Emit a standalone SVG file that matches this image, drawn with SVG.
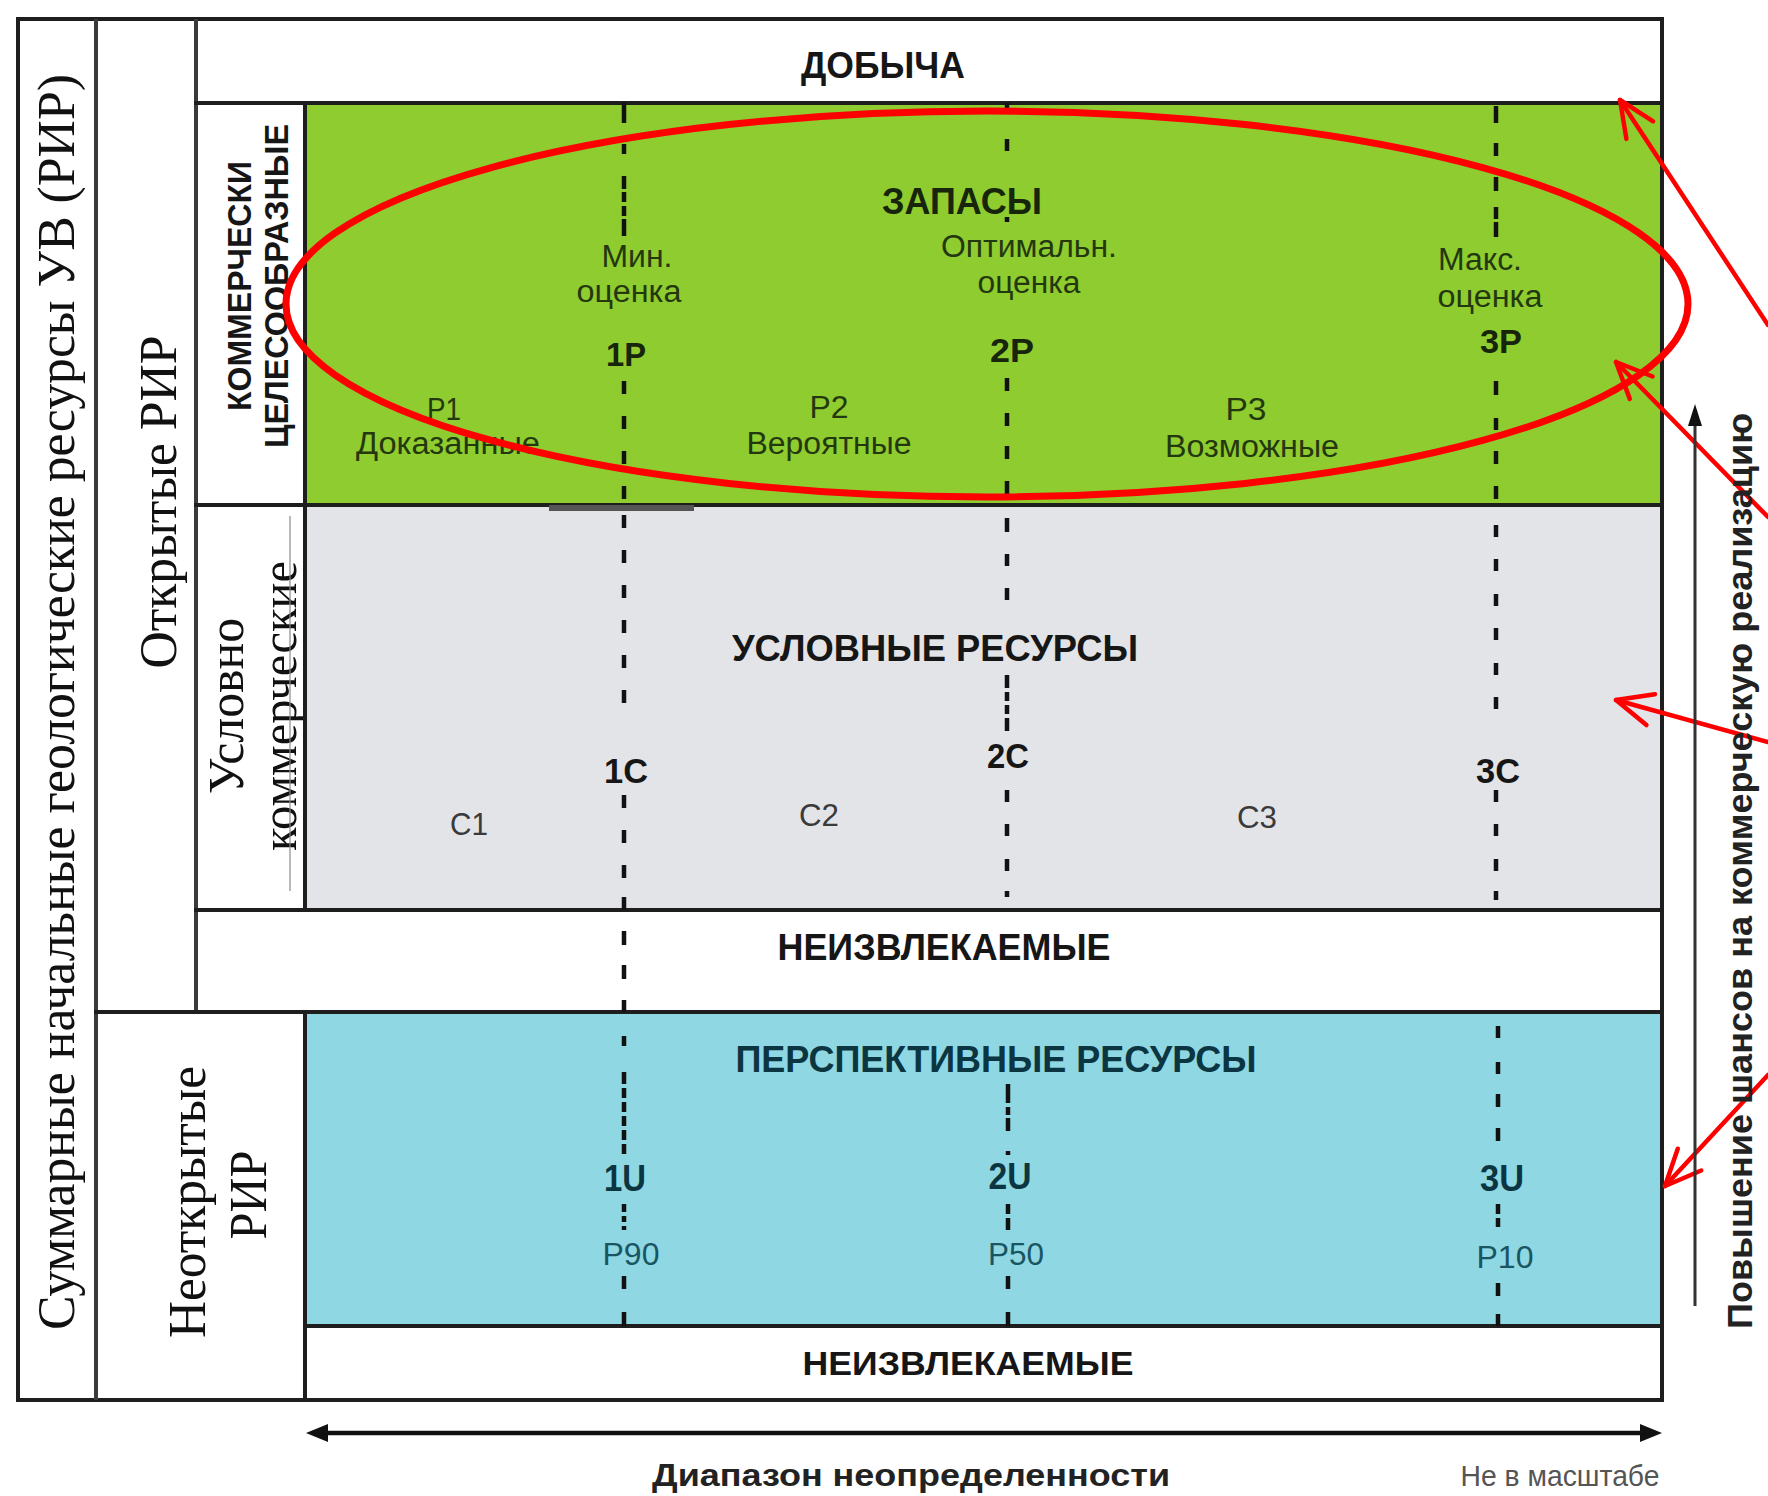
<svg xmlns="http://www.w3.org/2000/svg" width="1768" height="1496" viewBox="0 0 1768 1496">
<defs>
<style>
.sb{font-family:"Liberation Sans",Arial,sans-serif;font-weight:bold;text-anchor:middle}
.sr{font-family:"Liberation Sans",Arial,sans-serif;text-anchor:middle}
.se{font-family:"Liberation Serif","Times New Roman",serif;fill:#111;text-anchor:middle}
.gb{fill:#17250a}
.gr{fill:#24380f}
.kb{fill:#161616}
.kr{fill:#3a3a3a}
.tb{fill:#0b3540}
.tr{fill:#1a5562}
.frame{stroke:#1e1e1e;stroke-width:4;fill:none;stroke-linecap:square}
.col{stroke:#3a3a3a;stroke-width:4;fill:none}
.dash{stroke:#111;stroke-width:4.5;fill:none}
.red{stroke:#f00;stroke-width:4.5;fill:none;stroke-linecap:round}
</style>
<marker id="redhead" markerUnits="userSpaceOnUse" orient="auto" overflow="visible" refX="0" refY="0" markerWidth="1" markerHeight="1">
<path d="M-36,-16 L0,0 L-36,16" fill="none" stroke="#f00" stroke-width="4.5" stroke-linecap="round" stroke-linejoin="round"/>
</marker>
</defs>
<rect width="1768" height="1496" fill="#fff"/>

<g id="reserves">
<rect x="305" y="103" width="1357" height="402" fill="#8fcc2f"/>
<text class="sb gb" x="962" y="214" font-size="36" textLength="160" lengthAdjust="spacingAndGlyphs">ЗАПАСЫ</text>
<text class="sr gr" x="637" y="267" font-size="31" textLength="71" lengthAdjust="spacingAndGlyphs">Мин.</text>
<text class="sr gr" x="629" y="302" font-size="31" textLength="105" lengthAdjust="spacingAndGlyphs">оценка</text>
<text class="sr gr" x="1029" y="257" font-size="31" textLength="176" lengthAdjust="spacingAndGlyphs">Оптимальн.</text>
<text class="sr gr" x="1029" y="293" font-size="31" textLength="103" lengthAdjust="spacingAndGlyphs">оценка</text>
<text class="sr gr" x="1480" y="270" font-size="31" textLength="84" lengthAdjust="spacingAndGlyphs">Макс.</text>
<text class="sr gr" x="1490" y="307" font-size="31" textLength="105" lengthAdjust="spacingAndGlyphs">оценка</text>
<text class="sb gb" x="626" y="366" font-size="34" textLength="40" lengthAdjust="spacingAndGlyphs">1P</text>
<text class="sb gb" x="1012" y="362" font-size="34" textLength="44" lengthAdjust="spacingAndGlyphs">2P</text>
<text class="sb gb" x="1501" y="353" font-size="34" textLength="42" lengthAdjust="spacingAndGlyphs">3P</text>
<text class="sr gr" x="444" y="420" font-size="32" textLength="34" lengthAdjust="spacingAndGlyphs">P1</text>
<text class="sr gr" x="448" y="454" font-size="31" textLength="184" lengthAdjust="spacingAndGlyphs">Доказанные</text>
<text class="sr gr" x="829" y="418" font-size="32" textLength="39" lengthAdjust="spacingAndGlyphs">P2</text>
<text class="sr gr" x="829" y="454" font-size="31" textLength="165" lengthAdjust="spacingAndGlyphs">Вероятные</text>
<text class="sr gr" x="1246" y="420" font-size="32" textLength="41" lengthAdjust="spacingAndGlyphs">P3</text>
<text class="sr gr" x="1252" y="457" font-size="31" textLength="174" lengthAdjust="spacingAndGlyphs">Возможные</text>
</g>

<g id="contingent">
<rect x="305" y="505" width="1357" height="405" fill="#e3e4e8"/>
<text class="sb kb" x="935" y="661" font-size="36" textLength="406" lengthAdjust="spacingAndGlyphs">УСЛОВНЫЕ РЕСУРСЫ</text>
<text class="sb kb" x="626" y="783" font-size="35" textLength="44" lengthAdjust="spacingAndGlyphs">1C</text>
<text class="sb kb" x="1008" y="768" font-size="35" textLength="42" lengthAdjust="spacingAndGlyphs">2C</text>
<text class="sb kb" x="1498" y="783" font-size="35" textLength="44" lengthAdjust="spacingAndGlyphs">3C</text>
<text class="sr kr" x="469" y="835" font-size="32" textLength="38" lengthAdjust="spacingAndGlyphs">C1</text>
<text class="sr kr" x="819" y="826" font-size="32" textLength="40" lengthAdjust="spacingAndGlyphs">C2</text>
<text class="sr kr" x="1257" y="828" font-size="32" textLength="40" lengthAdjust="spacingAndGlyphs">C3</text>
</g>

<g id="prospective">
<rect x="305" y="1012" width="1357" height="314" fill="#8fd7e2"/>
<text class="sb tb" x="996" y="1072" font-size="36" textLength="521" lengthAdjust="spacingAndGlyphs">ПЕРСПЕКТИВНЫЕ РЕСУРСЫ</text>
<text class="sb tb" x="625" y="1191" font-size="36" textLength="42" lengthAdjust="spacingAndGlyphs">1U</text>
<text class="sb tb" x="1010" y="1189" font-size="36" textLength="43" lengthAdjust="spacingAndGlyphs">2U</text>
<text class="sb tb" x="1502" y="1191" font-size="36" textLength="44" lengthAdjust="spacingAndGlyphs">3U</text>
<text class="sr tr" x="631" y="1265" font-size="32" textLength="57" lengthAdjust="spacingAndGlyphs">P90</text>
<text class="sr tr" x="1016" y="1265" font-size="32" textLength="56" lengthAdjust="spacingAndGlyphs">P50</text>
<text class="sr tr" x="1505" y="1268" font-size="32" textLength="57" lengthAdjust="spacingAndGlyphs">P10</text>
</g>

<g id="production">
<text class="sb kb" x="883" y="78" font-size="36" textLength="164" lengthAdjust="spacingAndGlyphs">ДОБЫЧА</text>
</g>

<g id="unrecoverable-1">
<text class="sb kb" x="944" y="960" font-size="36" textLength="333" lengthAdjust="spacingAndGlyphs">НЕИЗВЛЕКАЕМЫЕ</text>
</g>

<g id="unrecoverable-2">
<text class="sb kb" x="968" y="1375" font-size="34" textLength="331" lengthAdjust="spacingAndGlyphs">НЕИЗВЛЕКАЕМЫЕ</text>
</g>

<g id="total-resources">
<text class="se" transform="translate(74,702) rotate(-90)" font-size="52" textLength="1256" lengthAdjust="spacingAndGlyphs">Суммарные начальные геологические ресурсы УВ (РИР)</text>
</g>

<g id="discovered">
<text class="se" transform="translate(176,502) rotate(-90)" font-size="52" textLength="333" lengthAdjust="spacingAndGlyphs">Открытые РИР</text>
</g>

<g id="commercial-label">
<text class="sb kb" transform="translate(251,286) rotate(-90)" font-size="33" textLength="250" lengthAdjust="spacingAndGlyphs">КОММЕРЧЕСКИ</text>
<text class="sb kb" transform="translate(288,286) rotate(-90)" font-size="33" textLength="324" lengthAdjust="spacingAndGlyphs">ЦЕЛЕСООБРАЗНЫЕ</text>
</g>

<g id="sub-commercial-label">
<text class="se" transform="translate(243,706) rotate(-90)" font-size="50" textLength="176" lengthAdjust="spacingAndGlyphs">Условно</text>
<text class="se" transform="translate(296,706) rotate(-90)" font-size="50" textLength="290" lengthAdjust="spacingAndGlyphs">коммерческие</text>
<line x1="290" y1="516" x2="290" y2="891" stroke="#8a8a8a" stroke-width="1.2"/>
</g>

<g id="undiscovered">
<text class="se" transform="translate(205,1202) rotate(-90)" font-size="52" textLength="272" lengthAdjust="spacingAndGlyphs">Неоткрытые</text>
<text class="se" transform="translate(266,1195) rotate(-90)" font-size="52" textLength="89" lengthAdjust="spacingAndGlyphs">РИР</text>
</g>

<g id="frame">
<rect x="18" y="19" width="1644" height="1381" class="frame"/>
<line x1="96" y1="19" x2="96" y2="1400" class="col"/>
<line x1="196" y1="19" x2="196" y2="1012" class="col"/>
<line x1="305" y1="103" x2="305" y2="910" class="frame"/>
<line x1="305" y1="1012" x2="305" y2="1400" class="frame"/>
<line x1="196" y1="103" x2="1662" y2="103" class="frame"/>
<line x1="196" y1="505" x2="1662" y2="505" class="frame"/>
<line x1="196" y1="910" x2="1662" y2="910" class="frame"/>
<line x1="96" y1="1012" x2="1662" y2="1012" class="frame"/>
<line x1="305" y1="1326" x2="1662" y2="1326" class="frame"/>
<rect x="549" y="505" width="145" height="6" fill="#555"/>
</g>

<g id="uncertainty-lines">
<path class="dash" d="M624 103V123M624 144V154M624 176V189M624 192V202M624 206V216M624 219V236M624 381V394M624 416V429M624 451V464M624 486V499M624 515V528M624 550V563M624 585V598M624 620V633M624 655V668M624 690V703M624 795V808M624 830V843M624 865V878M624 897V910M624 931V945M624 965V979M624 1000V1012M624 1036V1046M624 1072V1084M624 1088V1098M624 1102V1112M624 1116V1126M624 1130V1140M624 1144V1154M624 1204V1212M624 1216V1222M624 1226V1230M624 1276V1289M624 1312V1326"/>
<path class="dash" d="M1007 103V111M1007 139V151M1007 217V222M1007 378V391M1007 413V426M1007 446V459M1007 481V494M1007 518V532M1007 554V566M1007 588V600M1007 675V688M1007 692V701M1007 705V714M1007 718V731M1007 790V802M1007 824V836M1007 859V871M1007 891V897M1008 1084V1103M1008 1107V1115M1008 1118V1131M1008 1151V1155M1008 1204V1214M1008 1218V1230M1008 1276V1289M1008 1312V1326"/>
<path class="dash" d="M1496 106V123M1496 143V156M1496 177V191M1496 207V219M1496 222V237M1496 381V395M1496 418V430M1496 451V464M1496 486V499M1496 525V537M1496 559V571M1496 594V606M1496 628V640M1496 663V675M1496 697V709M1496 790V802M1496 824V836M1496 859V871M1496 891V900M1498 1026V1038M1498 1062V1074M1498 1094V1107M1498 1128V1141M1498 1204V1214M1498 1218V1227M1498 1283V1296M1498 1314V1326"/>
</g>

<g id="reserves-highlight">
<ellipse cx="987" cy="304" rx="701" ry="193" fill="none" stroke="#f00" stroke-width="7"/>
</g>

<g id="connectors">
<line class="red" x1="1768" y1="325" x2="1620" y2="100" marker-end="url(#redhead)"/>
<line class="red" x1="1768" y1="517" x2="1616" y2="362" marker-end="url(#redhead)"/>
<line class="red" x1="1768" y1="742" x2="1616" y2="700" marker-end="url(#redhead)"/>
<line class="red" x1="1768" y1="1075" x2="1665" y2="1186" marker-end="url(#redhead)"/>
<line x1="1695" y1="1306" x2="1695" y2="422" stroke="#333" stroke-width="3"/>
<polygon points="1695,404 1688,426 1702,426" fill="#111"/>
<line x1="324" y1="1433" x2="1644" y2="1433" stroke="#111" stroke-width="4.5"/>
<polygon points="306,1433 328,1424 328,1442" fill="#111"/>
<polygon points="1662,1433 1640,1424 1640,1442" fill="#111"/>
</g>

<g id="axis-labels">
<text class="sb" fill="#222" transform="translate(1752,871) rotate(-90)" font-size="35" textLength="916" lengthAdjust="spacingAndGlyphs">Повышение шансов на коммерческую реализацию</text>
<text class="sb" fill="#222" x="911" y="1486" font-size="32" textLength="518" lengthAdjust="spacingAndGlyphs">Диапазон неопределенности</text>
<text class="sr" fill="#555" x="1560" y="1486" font-size="29" textLength="199" lengthAdjust="spacingAndGlyphs">Не в масштабе</text>
</g>
</svg>
